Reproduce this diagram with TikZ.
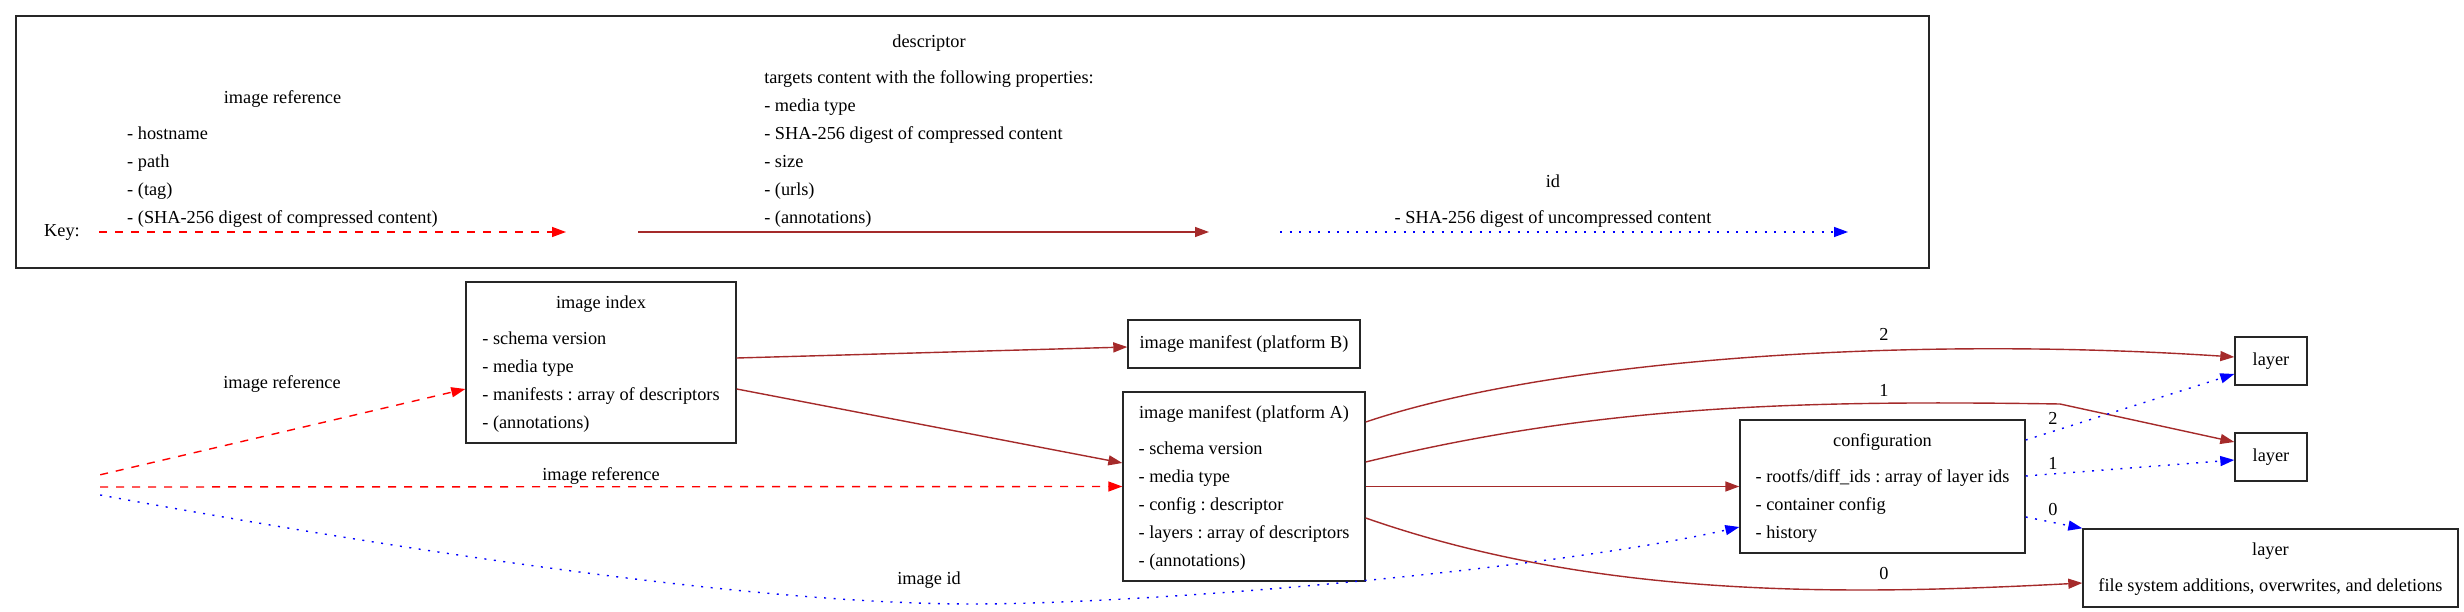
\documentclass[tikz,border=0pt]{standalone}
\usepackage{fontspec}
\setmainfont{Liberation Serif}
\usetikzlibrary{arrows.meta}
\frenchspacing

\definecolor{edgebrown}{HTML}{A52A2A}
\newcommand{\fieldlist}[2]{\begin{tabular}{@{}l@{}}\multicolumn{1}{@{}c@{}}{#1}\\[8pt]#2\end{tabular}}

\begin{document}
\begin{tikzpicture}[x=1pt,y=-1pt,>={Triangle[length=14pt,width=10pt]},
	every node/.style={font=\fontsize{18.3}{28}\selectfont,inner sep=0pt}]
	\tikzstyle{record}=[rectangle, draw=black!85, line width=1.4pt]
	\tikzstyle{ref}=[->, red, line width=1.4pt, dash pattern=on 8pt off 8pt]
	\tikzstyle{desc}=[->, edgebrown, line width=1.4pt]
	\tikzstyle{idlink}=[->, blue, line width=1.4pt, dash pattern=on 2pt off 7.5pt]

	\useasboundingbox (0,0) rectangle (2464,612);

	% key
	\node[record, minimum width=1913pt, minimum height=252pt] (legend) at (972.5,142) {};
	\node (keytext) at (62,232) {Key:};
	\coordinate (refA) at (99,232);
	\coordinate (refB) at (566,232);
	\coordinate (descA) at (638,232);
	\coordinate (descB) at (1209,232);
	\coordinate (idA) at (1280,232);
	\coordinate (idB) at (1848,232);
	\node (refkey) at (282.5,158) {\fieldlist{image reference}{- hostname\\- path\\- (tag)\\- (SHA-256 digest of compressed content)}};
	\node (desckey) at (929,130) {\fieldlist{descriptor}{targets content with the following properties:\\- media type\\- SHA-256 digest of compressed content\\- size\\- (urls)\\- (annotations)}};
	\node (idkey) at (1553,199.5) {\fieldlist{id}{- SHA-256 digest of uncompressed content}};
	\draw[ref] (refA) -- (refB);
	\draw[desc] (descA) -- (descB);
	\draw[idlink] (idA) -- (idB);

	% nodes
	\node[minimum width=20pt, minimum height=24pt] (src) at (90,487) {};
	\node[record, minimum width=270pt, minimum height=161pt] (index) at (601,362.5) {\fieldlist{image index}{- schema version\\- media type\\- manifests : array of descriptors\\- (annotations)}};
	\node[record, minimum width=232pt, minimum height=48pt] (manB) at (1244,344) {image manifest (platform B)};
	\node[record, minimum width=242pt, minimum height=189pt] (manA) at (1244,486.5) {\fieldlist{image manifest (platform A)}{- schema version\\- media type\\- config : descriptor\\- layers : array of descriptors\\- (annotations)}};
	\node[record, minimum width=285pt, minimum height=133pt] (cfg) at (1882.5,486.5) {\fieldlist{configuration}{- rootfs/diff\_ids : array of layer ids\\- container config\\- history}};
	\node[record, minimum width=72pt, minimum height=48pt] (lay2) at (2271,361) {layer};
	\node[record, minimum width=72pt, minimum height=48pt] (lay1) at (2271,457) {layer};
	\node[record, minimum width=375pt, minimum height=78pt] (lay0) at (2270.5,568) {\fieldlist{layer}{file system additions, overwrites, and deletions}};

	% edges
	\draw[ref] (src.north east) -- ([yshift=-26.5pt]index.west);
	\draw[ref] (src.east) -- (manA.west);
	\draw[idlink] ([yshift=-8pt]src.east) .. controls (400,550) and (750,604) .. (972,604)
		.. controls (1150,604) and (1550,570) .. ([yshift=-40.5pt]cfg.west);
	\draw[desc] ([yshift=4.5pt]index.east) -- ([yshift=-3pt]manB.west);
	\draw[desc] ([yshift=-26.5pt]index.east) -- ([yshift=23.5pt]manA.west);
	\draw[desc] (manA.east) -- (cfg.west);
	\draw[desc] ([yshift=64.5pt]manA.east) .. controls (1550,360) and (1900,335) .. ([yshift=4pt]lay2.west);
	\draw[desc] ([yshift=24.5pt]manA.east) .. controls (1600,405) and (1800,400) .. (2060,404) -- ([yshift=15pt]lay1.west);
	\draw[desc] ([yshift=-31.5pt]manA.east) .. controls (1600,600) and (1850,595) .. ([yshift=-15pt]lay0.west);
	\draw[idlink] ([yshift=46.5pt]cfg.east) -- ([yshift=-13pt]lay2.west);
	\draw[idlink] ([yshift=10.5pt]cfg.east) -- ([yshift=-3pt]lay1.west);
	\draw[idlink] ([yshift=-30.5pt]cfg.east) -- (lay0.north west);

	% edge labels
	\node (refup) at (282,384) {image reference};
	\node (refmid) at (601,476) {image reference};
	\node (imgid) at (929,580) {image id};
	\node (l2) at (1884,334) {2};
	\node (l1) at (1884,390) {1};
	\node (l0) at (1884,574) {0};
	\node (c2) at (2053,418) {2};
	\node (c1) at (2053,463) {1};
	\node (c0) at (2053,510) {0};
\end{tikzpicture}
\end{document}
